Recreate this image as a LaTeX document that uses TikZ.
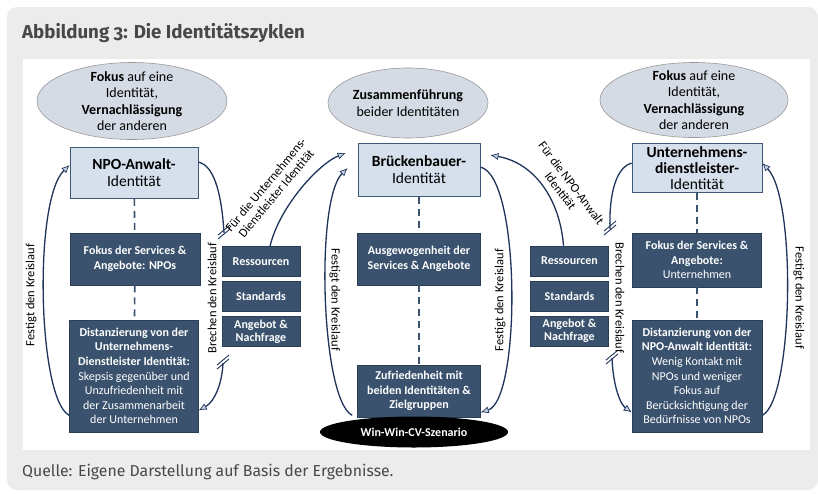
\documentclass[tikz,border=0pt]{standalone}
\usepackage{fontspec}
\setmainfont{Carlito}
\newfontfamily\headfont[Numbers=OldStyle]{Fira Sans}
\usetikzlibrary{arrows.meta,positioning,shapes.geometric}
\definecolor{panelgray}{RGB}{236,236,236}
\definecolor{boxdark}{RGB}{58,82,110}
\definecolor{boxlight}{RGB}{214,224,236}
\definecolor{boxline}{RGB}{62,88,122}
\definecolor{ellfill}{RGB}{213,219,229}
\definecolor{arrowline}{RGB}{30,52,92}
\definecolor{arrowfill}{RGB}{200,212,228}
\definecolor{headgray}{RGB}{72,72,72}
\newcommand{\brkmark}[1]{%
  \draw[brk] ([shift={(-6pt,-2pt)}]#1) -- ++(12pt,10pt)
             ([shift={(-6pt,-6pt)}]#1) -- ++(12pt,10pt);}

\begin{document}
\begin{tikzpicture}[x=1pt,y=-1pt,node distance=4.5pt,
  every node/.style={font=\fontsize{12}{14.6}\selectfont},
  focus/.style={ellipse,draw=black!40,fill=ellfill,line width=0.6pt},
  focustext/.style={align=center,font=\fontsize{14}{16.3}\selectfont},
  ident/.style={draw=boxline,fill=boxlight,line width=0.8pt,align=center,
    inner sep=1pt,minimum height=51pt,font=\fontsize{15.5}{17}\selectfont},
  dark/.style={draw=boxline!70!black,fill=boxdark,text=white,align=center,
    line width=0.6pt,inner sep=2pt},
  res/.style={dark,minimum width=78pt,minimum height=30pt,
    font=\fontsize{12}{13.5}\selectfont\bfseries},
  link/.style={draw=boxdark,line width=1.6pt,dash pattern=on 7pt off 5pt},
  cycline/.style={draw=arrowline,line width=1.3pt},
  cyc/.style={cycline,-{Latex[length=8pt,width=7pt,fill=arrowfill,line width=0.7pt]}},
  brk/.style={draw=arrowline,line width=0.9pt},
  lab/.style={font=\fontsize{12.5}{13.5}\selectfont,inner sep=1pt,align=center}]
\useasboundingbox (0,0) rectangle (818,493);
\fill[panelgray,rounded corners=10pt] (7,7) rectangle (818,490);
\fill[white] (23,59) rectangle (810,450);
\node[anchor=base west,text=headgray,inner sep=0pt,
  font=\fontsize{18.7}{22}\selectfont\headfont\bfseries] (title) at (22,38)
  {Abbildung 3: Die Identitätszyklen};
\node[anchor=base west,text=headgray,inner sep=0pt,
  font=\fontsize{15.8}{18}\selectfont\headfont] (source) at (22,476)
  {Quelle: Eigene Darstellung auf Basis der Ergebnisse.};

\node[focus,minimum width=190pt,minimum height=77pt,
  label={[focustext]center:{\textbf{Fokus} auf eine\\Identität,\\\textbf{Vernachlässigung}\\der anderen}}] (focL) at (132,101) {};
\node[focus,minimum width=160pt,minimum height=70pt,
  label={[focustext]center:{\textbf{Zusammenführung}\\beider Identitäten}}] (focM) at (408,103) {};
\node[focus,minimum width=188pt,minimum height=75pt,
  label={[focustext]center:{\textbf{Fokus} auf eine\\Identität,\\\textbf{Vernachlässigung}\\der anderen}}] (focR) at (694,100) {};

\node[ident,minimum width=128pt] (npo) at (134,173) {\textbf{NPO-Anwalt-}\\Identität};
\node[ident,minimum width=122pt,minimum height=53pt] (bridge) at (419,170) {\textbf{Brückenbauer-}\\Identität};
\node[ident,minimum width=130pt,minimum height=49pt,font=\fontsize{15.5}{16}\selectfont] (unt) at (697,168) {\textbf{Unternehmens-}\\\textbf{dienstleister-}\\Identität};

\node[dark,minimum width=130pt,minimum height=52pt] (fokL) at (135,259) {\textbf{Fokus der Services \&}\\\textbf{Angebote: NPOs}};
\node[dark,minimum width=129pt,minimum height=112pt] (distL) at (134,376) {\textbf{Distanzierung von der}\\\textbf{Unternehmens-}\\\textbf{Dienstleister Identität:}\\Skepsis gegenüber und\\Unzufriedenheit mit\\der Zusammenarbeit\\der Unternehmen};
\node[dark,minimum width=123pt,minimum height=52pt] (ausg) at (419,259) {\textbf{Ausgewogenheit der}\\\textbf{Services \& Angebote}};
\node[dark,minimum width=123pt,minimum height=52pt] (zufr) at (419,391) {\textbf{Zufriedenheit mit}\\\textbf{beiden Identitäten \&}\\\textbf{Zielgruppen}};
\node[ellipse,fill=black,text=white,minimum width=188pt,minimum height=31pt,inner sep=0pt,
  font=\fontsize{12}{13}\selectfont\bfseries] (win) at (414,432) {Win-Win-CV-Szenario};
\node[dark,minimum width=129pt,minimum height=54pt] (fokR) at (697,260) {\textbf{Fokus der Services \&}\\\textbf{Angebote:}\\Unternehmen};
\node[dark,minimum width=130pt,minimum height=112pt] (distR) at (697,376) {\textbf{Distanzierung von der}\\\textbf{NPO-Anwalt Identität:}\\Wenig Kontakt mit\\NPOs und weniger\\Fokus auf\\Berücksichtigung der\\Bedürfnisse von NPOs};

\node[res] (resL) at (261,261.5) {Ressourcen};
\node[res,below=of resL] (stdL) {Standards};
\node[res,below=of stdL,font=\fontsize{12}{13}\selectfont\bfseries,inner sep=1pt] (angL) {Angebot \&\\Nachfrage};
\node[res] (resR) at (569.5,261) {Ressourcen};
\node[res,below=of resR] (stdR) {Standards};
\node[res,below=of stdR,font=\fontsize{12}{13}\selectfont\bfseries,inner sep=1pt] (angR) {Angebot \&\\Nachfrage};

\draw[link] (npo) -- (fokL);
\draw[link] (fokL) -- (distL);
\draw[link] (bridge) -- (ausg);
\draw[link] (ausg) -- (zufr);
\draw[link] (unt) -- (fokR);
\draw[link] (fokR) -- (distR);

\coordinate (brkL1) at (224,233);
\coordinate (brkL2) at (223,363);
\coordinate (brkR1) at (610,229);
\coordinate (brkR2) at (612,358);

\draw[cyc] ([yshift=17pt]distL.south west) .. controls (38,400) and (33,200) .. ([yshift=-18pt]npo.north west);
\draw[cycline] ([yshift=-15pt]npo.north east) .. controls (216,166) and (222,200) .. (brkL1);
\draw[cyc] (brkL2) .. controls (222,385) and (214,402) .. ([yshift=22pt]distL.south east);
\draw[cycline] ([yshift=-20pt]unt.north west) .. controls (614,168) and (609,200) .. (brkR1);
\draw[cyc] (brkR2) .. controls (613,385) and (620,404) .. ([yshift=20pt]distR.south west);
\draw[cyc] ([yshift=17pt]distR.south east) .. controls (793,400) and (797,200) .. ([yshift=-20pt]unt.north east);
\draw[cyc] ([xshift=-5pt,yshift=2pt]zufr.south west) .. controls (321,400) and (315,200) .. ([xshift=-10pt,yshift=-25pt]bridge.north west);
\draw[cyc] ([yshift=-24pt]bridge.north east) .. controls (521,176) and (521,400) .. ([yshift=5pt]zufr.south east);
\draw[cyc] ([xshift=9pt]resL.north) .. controls (280,205) and (320,163) .. ([xshift=-12pt,yshift=-10pt]bridge.north west);
\draw[cyc] ([xshift=-6pt]resR.north) .. controls (560,200) and (535,163) .. ([xshift=10pt,yshift=-12pt]bridge.north east);
\brkmark{brkL1}
\brkmark{brkL2}
\brkmark{brkR1}
\brkmark{brkR2}

\node[lab,rotate=90] (fixL) at (31,295) {Festigt den Kreislauf};
\node[lab,rotate=90] (breakL) at (212,298) {Brechen den Kreislauf};
\node[lab,rotate=-90] (fixML) at (335,300) {Festigt den Kreislauf};
\node[lab,rotate=90] (fixMR) at (500,300) {Festigt den Kreislauf};
\node[lab,rotate=-90] (breakR) at (620,298) {Brechen den Kreislauf};
\node[lab,rotate=-90] (fixR) at (799,298) {Festigt den Kreislauf};
\node[lab,rotate=50] (forUnt) at (271,189) {Für die Unternehmens-\\Dienstleister Identität};
\node[lab,rotate=-53] (forNPO) at (566,187) {Für die NPO-Anwalt\\Identität};
\end{tikzpicture}
\end{document}
